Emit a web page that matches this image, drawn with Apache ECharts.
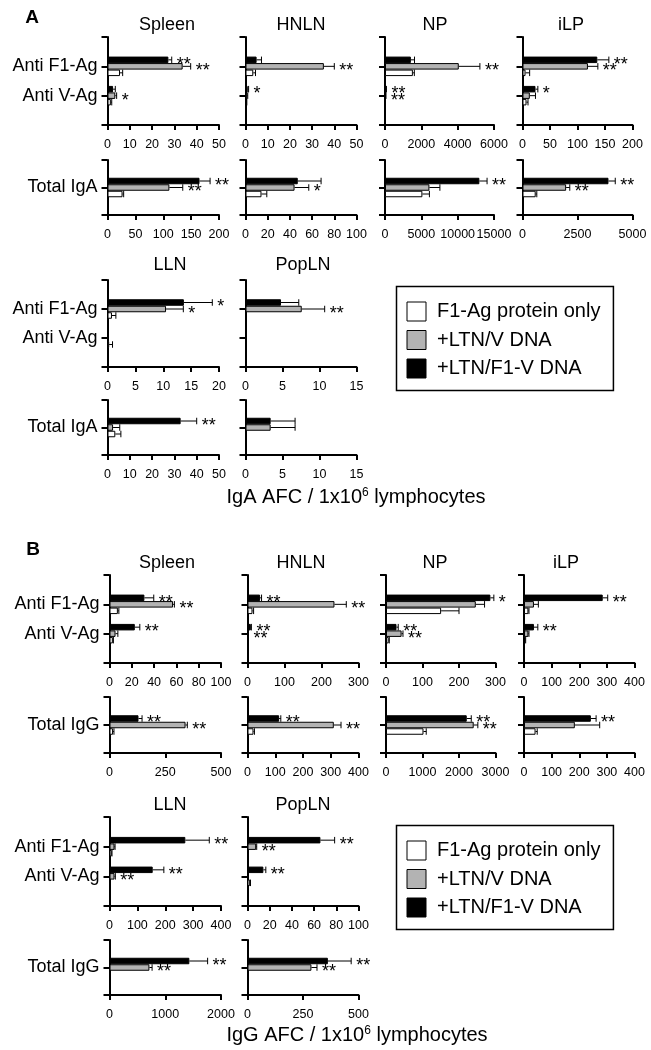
<!DOCTYPE html>
<html><head><meta charset="utf-8">
<script src="https://cdn.jsdelivr.net/npm/echarts@6/dist/echarts.min.js"></script>
<style>html,body{margin:0;padding:0;background:#fff}#c{width:651px;height:1050px}</style>
</head><body><div id="c"></div>
<script>
// ---------------- DATA ----------------
const groups = ['F1-Ag protein only', '+LTN/V DNA', '+LTN/F1-V DNA'];
const agCategories = ['Anti F1-Ag', 'Anti V-Ag'];
const igaTotalCategory = ['Total IgA'];
const iggTotalCategory = ['Total IgG'];
const organsTop = ['Spleen', 'HNLN', 'NP', 'iLP'];
const organsBottom = ['LLN', 'PopLN'];
const axisTitleA = 'IgA AFC / 1x10{s|6} lymphocytes';
const axisTitleB = 'IgG AFC / 1x10{s|6} lymphocytes';

// each row: [F1-Ag protein only, +LTN/V DNA, +LTN/F1-V DNA]
// ---- Panel A (IgA) ----
const A_Spleen_ag_mean = [[5.6, 33.7, 27.3], [1.5, 3.5, 2.5]];
const A_Spleen_ag_err  = [[1.2, 3.6, 1.5], [0.4, 0.6, 1.0]];
const A_Spleen_ag_sig  = [['', '**', '**'], ['', '*', '']];
const A_HNLN_ag_mean = [[3.5, 35.3, 5.0], [0.4, 0.8, 1.0]];
const A_HNLN_ag_err  = [[1.0, 4.7, 2.2], [0.2, 0.2, 0.4]];
const A_HNLN_ag_sig  = [['', '**', ''], ['', '', '*']];
const A_NP_ag_mean = [[1535, 4061, 1424], [15, 40, 60]];
const A_NP_ag_err  = [[80, 1163, 200], [10, 15, 20]];
const A_NP_ag_sig  = [['', '**', ''], ['', '**', '**']];
const A_iLP_ag_mean = [[5.5, 119, 136], [7.3, 13.3, 23.6]];
const A_iLP_ag_err  = [[7.5, 18, 21], [2.7, 10.3, 4.3]];
const A_iLP_ag_sig  = [['', '**', '**'], ['', '', '*']];

const A_Spleen_total_mean = [[27, 111, 165]];
const A_Spleen_total_err  = [[2, 24, 19]];
const A_Spleen_total_sig  = [['', '**', '**']];
const A_HNLN_total_mean = [[14.4, 44.2, 47.1]];
const A_HNLN_total_err  = [[4.8, 12.8, 21]];
const A_HNLN_total_sig  = [['', '*', '']];
const A_NP_total_mean = [[5145, 6111, 12985]];
const A_NP_total_err  = [[966, 1443, 1061]];
const A_NP_total_sig  = [['', '', '**']];
const A_iLP_total_mean = [[600, 1983, 3907]];
const A_iLP_total_err  = [[50, 166, 309]];
const A_iLP_total_sig  = [['', '**', '**']];

const A_LLN_ag_mean = [[0.8, 10.5, 13.7], [0.3, 0, 0.1]];
const A_LLN_ag_err  = [[0.7, 3.1, 5.1], [0.6, 0, 0]];
const A_LLN_ag_sig  = [['', '*', '*'], ['', '', '']];
const A_PopLN_ag_mean = [[0, 7.6, 4.8], [0, 0, 0]];
const A_PopLN_ag_err  = [[0, 3.1, 2.4], [0, 0, 0]];
const A_PopLN_ag_sig  = [['', '**', ''], ['', '', '']];
const A_LLN_total_mean = [[3.5, 2.5, 32.8]];
const A_LLN_total_err  = [[2.5, 3, 7.2]];
const A_LLN_total_sig  = [['', '', '**']];
const A_PopLN_total_mean = [[0, 3.4, 3.4]];
const A_PopLN_total_err  = [[0, 3.3, 3.3]];
const A_PopLN_total_sig  = [['', '', '']];

// ---- Panel B (IgG) ----
const B_Spleen_ag_mean = [[7.5, 57, 31.3], [3, 5.4, 22.7]];
const B_Spleen_ag_err  = [[0.9, 1.2, 8.4], [0.5, 2.1, 4.5]];
const B_Spleen_ag_sig  = [['', '**', '**'], ['', '', '**']];
const B_HNLN_ag_mean = [[13.5, 235, 34], [1, 2, 9]];
const B_HNLN_ag_err  = [[3, 32, 4], [0.5, 0.5, 1.5]];
const B_HNLN_ag_sig  = [['', '**', '**'], ['', '**', '**']];
const B_NP_ag_mean = [[151, 246, 286], [7.4, 42.7, 28.7]];
const B_NP_ag_err  = [[49, 24, 9.5], [1.6, 3.8, 4.8]];
const B_NP_ag_sig  = [['', '', '*'], ['', '**', '**']];
const B_iLP_ag_mean = [[16, 36, 285], [5, 16, 36]];
const B_iLP_ag_err  = [[2, 16, 18], [1, 2, 14]];
const B_iLP_ag_sig  = [['', '', '**'], ['', '', '**']];

const B_Spleen_total_mean = [[16, 341, 130]];
const B_Spleen_total_err  = [[4, 8, 16]];
const B_Spleen_total_sig  = [['', '**', '**']];
const B_HNLN_total_mean = [[21.6, 311, 114]];
const B_HNLN_total_err  = [[3.4, 26, 6]];
const B_HNLN_total_sig  = [['', '**', '**']];
const B_NP_total_mean = [[1027, 2403, 2212]];
const B_NP_total_err  = [[75, 113, 124]];
const B_NP_total_sig  = [['', '**', '**']];
const B_iLP_total_mean = [[41.8, 184, 242]];
const B_iLP_total_err  = [[6, 90, 19]];
const B_iLP_total_sig  = [['', '', '**']];

const B_LLN_ag_mean = [[8, 18, 272], [1, 18, 155]];
const B_LLN_ag_err  = [[1, 2, 86], [0.5, 3, 40]];
const B_LLN_ag_sig  = [['', '', '**'], ['', '**', '**']];
const B_PopLN_ag_mean = [[0, 7.8, 65.7], [2.4, 0, 14.3]];
const B_PopLN_ag_err  = [[0, 0.5, 12.8], [0.3, 0, 2.2]];
const B_PopLN_ag_sig  = [['', '**', '**'], ['', '', '**']];
const B_LLN_total_mean = [[0, 716, 1432]];
const B_LLN_total_err  = [[0, 48, 328]];
const B_LLN_total_sig  = [['', '**', '**']];
const B_PopLN_total_mean = [[2, 288, 362]];
const B_PopLN_total_err  = [[0.5, 25, 105]];
const B_PopLN_total_sig  = [['', '**', '**']];

// axis [max, tick interval]
const A_top_ag_axes = [[50, 10], [50, 10], [6000, 2000], [200, 50]];
const A_top_total_axes = [[200, 50], [100, 20], [15000, 5000], [5000, 2500]];
const A_bottom_ag_axes = [[20, 5], [15, 5]];
const A_bottom_total_axes = [[50, 10], [15, 5]];
const B_top_ag_axes = [[100, 20], [300, 100], [300, 100], [400, 100]];
const B_top_total_axes = [[500, 250], [400, 100], [3000, 1000], [400, 100]];
const B_bottom_ag_axes = [[400, 100], [100, 20]];
const B_bottom_total_axes = [[2000, 1000], [500, 250]];

// ---------------- LAYOUT / BUILD ----------------
const FONT = "'Liberation Sans', Arial, Helvetica, sans-serif";
const BAR_W = 6.5;
const colsA = [[107.5, 111.5], [245.5, 111], [385, 109], [522.5, 110]];
const colsB = [[109.5, 111.5], [247.5, 111], [386, 109.5], [524, 110.5]];
const rows = {
  A1: [37, 88], A2: [160, 55], A3: [280, 87], A4: [400, 55],
  B1: [575, 88], B2: [697, 56], B3: [817, 89], B4: [940, 55]
};
const barStyles = [
  {color: '#ffffff', borderColor: '#000', borderWidth: 1},
  {color: '#b3b3b3', borderColor: '#000', borderWidth: 1},
  {color: '#000000', borderColor: '#000', borderWidth: 1}
];

const grid = [], xAxis = [], yAxis = [], series = [], graphic = [];

function addPanel(col, row, cats, mean, err, sig, axis, showLabels) {
  const gi = grid.length;
  grid.push({left: col[0], top: row[0], width: col[1], height: row[1]});
  xAxis.push({
    type: 'value', gridIndex: gi, min: 0, max: axis[0], interval: axis[1],
    axisLine: {show: true, onZero: false, lineStyle: {color: '#000', width: 2}},
    axisTick: {show: true, length: 5, lineStyle: {color: '#000', width: 2}},
    axisLabel: {fontSize: 12.5, color: '#000', margin: 13, fontFamily: FONT, showMinLabel: true, showMaxLabel: true,
      hideOverlap: false, formatter: v => String(v)},
    splitLine: {show: false}
  });
  yAxis.push({
    type: 'category', gridIndex: gi, data: ['', ...cats, ''], inverse: true, boundaryGap: false,
    axisLine: {show: true, onZero: false, lineStyle: {color: '#000', width: 2}},
    axisTick: {show: true, length: 6, interval: 0, lineStyle: {color: '#000', width: 2}},
    axisLabel: {show: showLabels, interval: 0, fontSize: 18, color: '#000', margin: 10, fontFamily: FONT},
    splitLine: {show: false}
  });
  // bars: black on top, gray middle, white bottom
  const order = [2, 1, 0];
  const items = [];
  order.forEach((g, slot) => {
    series.push({
      type: 'bar', name: groups[g], xAxisIndex: gi, yAxisIndex: gi,
      barWidth: BAR_W, barGap: '0%', silent: true, animation: false,
      itemStyle: barStyles[g],
      data: [null, ...mean.map(r => (r[g] > 0 ? r[g] : null)), null]
    });
    mean.forEach((r, i) => {
      items.push({cat: i + 1, mean: r[g], err: err[i][g], sig: sig[i][g], slot: slot});
    });
  });
  series.push({
    type: 'custom', xAxisIndex: gi, yAxisIndex: gi, silent: true, clip: false, z: 5, animation: false,
    data: items.map(it => [it.mean, it.cat, it.err]),
    renderItem: function (params, api) {
      const it = items[params.dataIndex];
      const c0 = api.coord([it.mean, it.cat]);
      const c1 = api.coord([it.mean + it.err, it.cat]);
      const yc = c0[1] + (it.slot - 1) * BAR_W;
      const ch = [];
      if (it.err > 0 && it.mean > 0) {
        ch.push({type: 'line', shape: {x1: c0[0], y1: yc, x2: c1[0], y2: yc}, style: {stroke: '#000', lineWidth: 1}});
        ch.push({type: 'line', shape: {x1: c1[0], y1: yc - BAR_W / 2, x2: c1[0], y2: yc + BAR_W / 2}, style: {stroke: '#000', lineWidth: 1}});
      }
      if (it.sig) {
        ch.push({type: 'text', style: {text: it.sig, x: c1[0] + 5, y: yc + 5, fill: '#000', fontSize: 18, fontFamily: FONT, align: 'left', verticalAlign: 'middle'}});
      }
      return {type: 'group', children: ch};
    }
  });
}

function addText(text, x, y, size, weight) {
  graphic.push({type: 'text', x: x, y: y, silent: true,
    style: {text: text, fill: '#000', fontSize: size, fontWeight: weight || 'normal', fontFamily: FONT, align: 'center', verticalAlign: 'middle'}});
}

// Panel A
const A_ag = [[A_Spleen_ag_mean, A_Spleen_ag_err, A_Spleen_ag_sig], [A_HNLN_ag_mean, A_HNLN_ag_err, A_HNLN_ag_sig], [A_NP_ag_mean, A_NP_ag_err, A_NP_ag_sig], [A_iLP_ag_mean, A_iLP_ag_err, A_iLP_ag_sig]];
const A_tot = [[A_Spleen_total_mean, A_Spleen_total_err, A_Spleen_total_sig], [A_HNLN_total_mean, A_HNLN_total_err, A_HNLN_total_sig], [A_NP_total_mean, A_NP_total_err, A_NP_total_sig], [A_iLP_total_mean, A_iLP_total_err, A_iLP_total_sig]];
A_ag.forEach((d, i) => addPanel(colsA[i], rows.A1, agCategories, d[0], d[1], d[2], A_top_ag_axes[i], i === 0));
A_tot.forEach((d, i) => addPanel(colsA[i], rows.A2, igaTotalCategory, d[0], d[1], d[2], A_top_total_axes[i], i === 0));
const A_bag = [[A_LLN_ag_mean, A_LLN_ag_err, A_LLN_ag_sig], [A_PopLN_ag_mean, A_PopLN_ag_err, A_PopLN_ag_sig]];
const A_btot = [[A_LLN_total_mean, A_LLN_total_err, A_LLN_total_sig], [A_PopLN_total_mean, A_PopLN_total_err, A_PopLN_total_sig]];
A_bag.forEach((d, i) => addPanel(colsA[i], rows.A3, agCategories, d[0], d[1], d[2], A_bottom_ag_axes[i], i === 0));
A_btot.forEach((d, i) => addPanel(colsA[i], rows.A4, igaTotalCategory, d[0], d[1], d[2], A_bottom_total_axes[i], i === 0));

// Panel B
const B_ag = [[B_Spleen_ag_mean, B_Spleen_ag_err, B_Spleen_ag_sig], [B_HNLN_ag_mean, B_HNLN_ag_err, B_HNLN_ag_sig], [B_NP_ag_mean, B_NP_ag_err, B_NP_ag_sig], [B_iLP_ag_mean, B_iLP_ag_err, B_iLP_ag_sig]];
const B_tot = [[B_Spleen_total_mean, B_Spleen_total_err, B_Spleen_total_sig], [B_HNLN_total_mean, B_HNLN_total_err, B_HNLN_total_sig], [B_NP_total_mean, B_NP_total_err, B_NP_total_sig], [B_iLP_total_mean, B_iLP_total_err, B_iLP_total_sig]];
B_ag.forEach((d, i) => addPanel(colsB[i], rows.B1, agCategories, d[0], d[1], d[2], B_top_ag_axes[i], i === 0));
B_tot.forEach((d, i) => addPanel(colsB[i], rows.B2, iggTotalCategory, d[0], d[1], d[2], B_top_total_axes[i], i === 0));
const B_bag = [[B_LLN_ag_mean, B_LLN_ag_err, B_LLN_ag_sig], [B_PopLN_ag_mean, B_PopLN_ag_err, B_PopLN_ag_sig]];
const B_btot = [[B_LLN_total_mean, B_LLN_total_err, B_LLN_total_sig], [B_PopLN_total_mean, B_PopLN_total_err, B_PopLN_total_sig]];
B_bag.forEach((d, i) => addPanel(colsB[i], rows.B3, agCategories, d[0], d[1], d[2], B_bottom_ag_axes[i], i === 0));
B_btot.forEach((d, i) => addPanel(colsB[i], rows.B4, iggTotalCategory, d[0], d[1], d[2], B_bottom_total_axes[i], i === 0));

// titles
const titleXTop = [167, 301, 435, 571];
const titleXBottom = [170, 303];
organsTop.forEach((t, i) => { addText(t, titleXTop[i], 25, 18); addText(t, titleXTop[i] - (i === 3 ? 5 : 0), 563, 18); });
organsBottom.forEach((t, i) => { addText(t, titleXBottom[i], 265, 18); addText(t, titleXBottom[i], 805, 18); });
addText('A', 32, 18, 19, 'bold');
addText('B', 33, 550, 19, 'bold');

function addAxisTitle(text, x, y) {
  graphic.push({type: 'text', x: x, y: y, silent: true,
    style: {text: text, fill: '#000', fontSize: 20, fontFamily: FONT, align: 'center', verticalAlign: 'middle',
      rich: {s: {fontSize: 12, fontFamily: FONT, verticalAlign: 'top', fill: '#000'}}}});
}
addAxisTitle(axisTitleA, 356, 497);
addAxisTitle(axisTitleB, 357, 1035);

function legendCfg(top) {
  return {
    orient: 'vertical', left: 396.5, top: top,
    padding: [15, 13, 12, 10], itemWidth: 19, itemHeight: 19, itemGap: 8.5,
    borderColor: '#000', borderWidth: 1.5, selectedMode: false,
    textStyle: {fontSize: 20, color: '#000', fontFamily: FONT, padding: [0, 0, 0, 6]},
    data: groups.map((g, i) => ({name: g, icon: 'rect', itemStyle: barStyles[i]}))
  };
}

const chart = echarts.init(document.getElementById('c'), null, {renderer: 'canvas'});
chart.setOption({
  animation: false,
  backgroundColor: '#fff',
  grid: grid, xAxis: xAxis, yAxis: yAxis, series: series,
  legend: [legendCfg(286.5), legendCfg(825.5)],
  graphic: graphic
});
</script></body></html>
